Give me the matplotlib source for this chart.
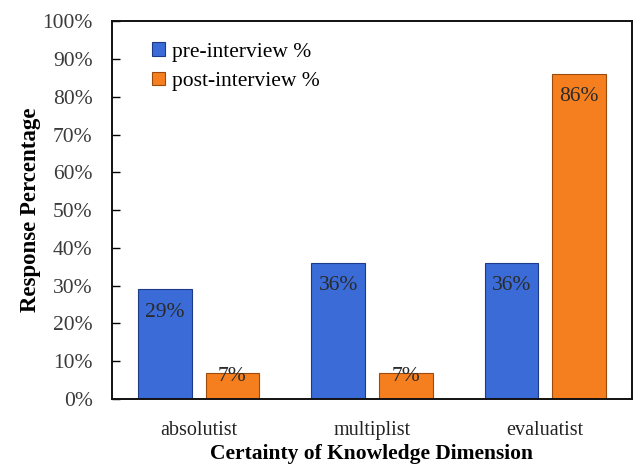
import numpy as np
import matplotlib
matplotlib.use("Agg")
import matplotlib.pyplot as plt

# ---------------------- Data ----------------------
categories = ["absolutist", "multiplist", "evaluatist"]
pre_interview = [29, 36, 36]
post_interview = [7, 7, 86]
series_names = ["pre-interview %", "post-interview %"]
y_ticks = list(range(0, 101, 10))

plt.rcParams['font.family'] = ['Liberation Serif', 'DejaVu Serif']

fig = plt.figure(figsize=(6.38, 4.70), dpi=100)
ax = fig.add_axes([0.1755, 0.151, 0.815, 0.804])

x = np.arange(len(categories))
width = 0.31
offset = 0.195

b1 = ax.bar(x - offset, pre_interview, width, color='#3a6bd6', edgecolor='#1d3a8a',
            linewidth=0.8, label=series_names[0])
b2 = ax.bar(x + offset, post_interview, width, color='#f57f1f', edgecolor='#9c4a0c',
            linewidth=0.8, label=series_names[1])

# value labels inside the top of each bar
for bars in (b1, b2):
    for rect in bars:
        v = rect.get_height()
        ypos = v - 6 if v > 15 else v - 1
        ax.text(rect.get_x() + rect.get_width() / 2, ypos, f"{v:.0f}%",
                ha='center', va='center', fontsize=15.5, color='#2a2a2a')

ax.set_xlim(-0.5, 2.5)
ax.set_ylim(0, 100)
ax.set_yticks(y_ticks)
ax.set_yticklabels([f"{t}%" for t in y_ticks], fontsize=15.5, color='#3a3a3a')
ax.set_xticks(x)
ax.set_xticklabels(categories, fontsize=14.5, color='#222222')
ax.tick_params(axis='y', direction='in', length=6, width=1, pad=14)
ax.tick_params(axis='x', length=0, pad=16)
for s in ax.spines.values():
    s.set_linewidth(1.4)
    s.set_color('#111111')

ax.set_ylabel("Response Percentage", fontsize=16.5, fontweight='bold', labelpad=1)
ax.set_xlabel("Certainty of Knowledge Dimension", fontsize=15.5, fontweight='bold', labelpad=3)

ax.legend(loc='upper left', bbox_to_anchor=(0.04, 0.995), frameon=False, fontsize=15.5,
          handlelength=0.6, handleheight=0.6, handletextpad=0.3, labelspacing=0.45)

fig.savefig("out.png", dpi=100)
